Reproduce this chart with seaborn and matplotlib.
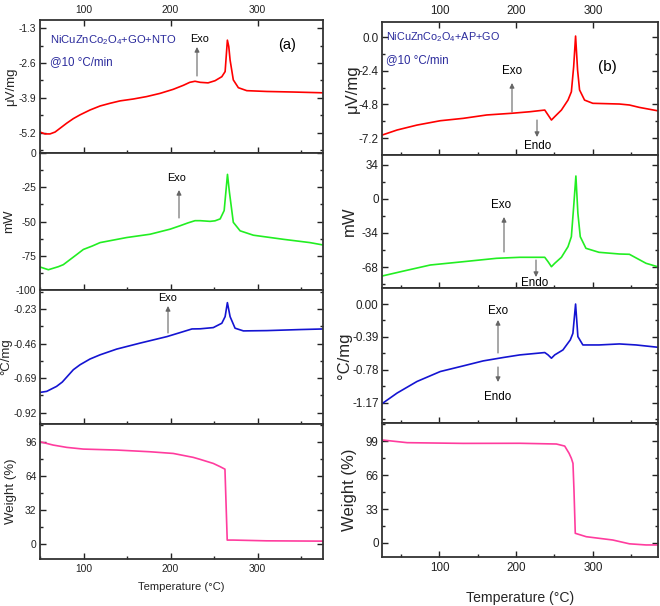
import numpy as np
import pandas as pd
import matplotlib
matplotlib.use("Agg")
import matplotlib.pyplot as plt
from matplotlib import font_manager
from matplotlib.ticker import MultipleLocator, FixedLocator
import seaborn as sns

# ---------------- data ----------------
# Left column: NiCuZnCo2O4+GO+NTO
a_dta_T = [50, 55.7, 61.5, 67.3, 73, 80.7, 88.3, 96, 107.4, 119, 130.4, 142, 157.2, 172.5, 188, 203, 214.7, 222, 228, 234, 243, 251, 258.8, 262.6, 264.1, 265.2, 266.8, 268.3, 272, 277.8, 287.5, 310.5, 340, 375.6]
a_dta_v = [-5.17, -5.24, -5.24, -5.17, -5.03, -4.84, -4.67, -4.53, -4.35, -4.20, -4.10, -4.01, -3.94, -3.85, -3.73, -3.58, -3.43, -3.32, -3.28, -3.32, -3.34, -3.26, -3.11, -2.92, -2.24, -1.75, -1.99, -2.49, -3.23, -3.52, -3.63, -3.66, -3.68, -3.71]

a_dsc_T = [50, 59.6, 71, 76.8, 84.5, 92.2, 99.8, 110, 119, 149.6, 176.4, 199.4, 210.9, 220, 228, 234, 245.3, 251, 256.9, 261.5, 265.3, 267.5, 272, 279.8, 295, 329.5, 360, 375.6]
a_dsc_v = [-83.2, -85.2, -83, -81.5, -77.8, -74.1, -70.4, -67.9, -65.4, -61.7, -59.3, -55.6, -53.1, -51, -49.4, -49.4, -49.9, -49.5, -48.1, -42, -15.6, -28.4, -50.6, -56.8, -60, -63, -65.4, -67.2]

a_dtg_T = [50, 57.7, 69, 75.6, 80.7, 88.3, 96, 107.4, 119, 138, 165, 195.7, 211, 224.5, 234, 249, 258.8, 262.6, 265.2, 268.3, 274, 283.6, 310.5, 349, 375.6]
a_dtg_v = [-0.785, -0.778, -0.745, -0.716, -0.683, -0.634, -0.601, -0.563, -0.535, -0.497, -0.457, -0.414, -0.387, -0.363, -0.362, -0.354, -0.325, -0.281, -0.188, -0.281, -0.358, -0.376, -0.374, -0.367, -0.363]

a_tg_T = [50, 65, 80.7, 99.8, 138, 176, 203, 226, 234, 249, 257, 262.4, 265.0, 272, 310, 375.6]
a_tg_v = [96.3, 93.2, 91, 89.4, 88.5, 86.9, 85.3, 81.6, 79.7, 75.9, 72.8, 70.5, 3.8, 3.8, 3.1, 2.8]

# Right column: NiCuZnCo2O4+AP+GO
b_dta_T = [25.2, 44.7, 70.6, 101, 131, 161.6, 194, 217.8, 237.3, 241.6, 246, 250.3, 259, 267.6, 272, 275, 277.5, 280.1, 282.7, 289.2, 300, 334.7, 347.7, 360.6, 384.4]
b_dta_v = [-6.98, -6.62, -6.27, -5.96, -5.79, -5.55, -5.43, -5.32, -5.2, -5.55, -5.91, -5.67, -5.2, -4.49, -3.90, -2.11, 0.07, -2.35, -3.77, -4.49, -4.72, -4.77, -4.84, -5.01, -5.25]

b_dsc_T = [25.2, 53.4, 88, 131, 174.5, 204.8, 237.3, 241.6, 246, 250.3, 259, 267.6, 272, 275, 277.9, 280.5, 283.6, 291, 308, 334.7, 347.7, 369.4, 384.4]
b_dsc_v = [-77, -72, -66, -62.7, -59.3, -58.3, -58.3, -62.7, -67.7, -64.3, -58.3, -47.7, -37.7, -7.7, 23, -14.3, -37.7, -49.3, -53.3, -55, -55.3, -64.3, -67.7]

b_dtg_T = [25.2, 44.7, 70.6, 101, 131, 157, 183, 204.8, 237.3, 241.6, 246, 250.3, 261, 270.6, 274, 277.5, 280.5, 287, 308, 334.7, 356.4, 384.4]
b_dtg_v = [-1.18, -1.055, -0.918, -0.80, -0.733, -0.674, -0.634, -0.603, -0.575, -0.603, -0.642, -0.603, -0.544, -0.425, -0.347, 0.0, -0.386, -0.485, -0.485, -0.473, -0.485, -0.512]

b_tg_T = [25.2, 57.8, 131, 204.8, 252.5, 263.3, 269, 272, 274.1, 275.4, 277.1, 291.4, 326, 347.7, 369.4, 384.4]
b_tg_v = [100, 97.4, 96.7, 96.8, 96.1, 94.1, 87.1, 82.2, 77.3, 51.4, 9.4, 6.1, 2.9, -0.8, -1.9, -1.9]

y_labels = ["\u03bcV/mg", "mW", "\u00b0C/mg", "Weight (%)"]
a_yticks = [[-1.3, -2.6, -3.9, -5.2], [0, -25, -50, -75, -100], [-0.23, -0.46, -0.69, -0.92], [96, 64, 32, 0]]
b_yticks = [[0.0, -2.4, -4.8, -7.2], [34, 0, -34, -68], [0.00, -0.39, -0.78, -1.17], [99, 66, 33, 0]]
a_yfmt = ["{:.1f}", "{:.0f}", "{:.2f}", "{:.0f}"]
b_yfmt = ["{:.1f}", "{:.0f}", "{:.2f}", "{:.0f}"]
x_ticks = [100, 200, 300]
x_label = "Temperature (\u00b0C)"
title_a = "NiCuZnCo$_2$O$_4$+GO+NTO"
title_b = "NiCuZnCo$_2$O$_4$+AP+GO"
rate_text = "@10 \u00b0C/min"

# ---------------- style ----------------
sns.set_style("ticks")
REG = ['Liberation Sans', 'DejaVu Sans']
try:
    font_manager.findfont('Liberation Sans Narrow', fallback_to_default=False)
    NAR = ['Liberation Sans Narrow', 'Liberation Sans', 'DejaVu Sans']
    k = 1.0
except Exception:
    NAR = REG
    k = 0.82
plt.rcParams['font.family'] = REG
plt.rcParams['mathtext.fontset'] = 'custom'
plt.rcParams['mathtext.rm'] = 'Liberation Sans'
plt.rcParams['mathtext.it'] = 'Liberation Sans'
plt.rcParams['mathtext.default'] = 'regular'

W, H = 660, 606
fig = plt.figure(figsize=(W / 100, H / 100), dpi=100)

colors = ["#ff0000", "#22ee22", "#1414d2", "#ff3c9e"]
text_blue = "#2a2a9c"

L_boxes = [(40, 20, 323, 153), (40, 153, 323, 290), (40, 290, 323, 424), (40, 424, 323, 559)]
R_boxes = [(382, 22, 658, 155), (382, 155, 658, 288), (382, 288, 658, 423), (382, 423, 658, 557)]
a_ylims = [(-5.95, -1.0), (-100, 0), (-0.995, -0.104), (-14, 113)]
b_ylims = [(-8.4, 1.07), (-89, 44), (-1.41, 0.19), (-13.6, 116.5)]
a_xlim = (50, 375)
b_xlim = (25, 385)
a_ylab_x = [-0.081, -0.088, -0.097, -0.081]
b_ylab_x = [-0.08, -0.09, -0.109, -0.09]

a_data = [(a_dta_T, a_dta_v), (a_dsc_T, a_dsc_v), (a_dtg_T, a_dtg_v), (a_tg_T, a_tg_v)]
b_data = [(b_dta_T, b_dta_v), (b_dsc_T, b_dsc_v), (b_dtg_T, b_dtg_v), (b_tg_T, b_tg_v)]


def make_axes(box):
    x0, y0, x1, y1 = box
    return fig.add_axes([x0 / W, 1 - y1 / H, (x1 - x0) / W, (y1 - y0) / H])


def frac(box, xp, yp):
    x0, y0, x1, y1 = box
    return ((xp - x0) / (x1 - x0), (y1 - yp) / (y1 - y0))


def build_column(boxes, data, ylims, yticks, yfmt, xlim, tick_fs, lab_fs, xlab_fs, ylab_x, xpad):
    axes = []
    for i, box in enumerate(boxes):
        ax = make_axes(box)
        T, v = data[i]
        df = pd.DataFrame({"T": T, "v": v})
        sns.lineplot(data=df, x="T", y="v", ax=ax, color=colors[i], lw=1.2,
                     estimator=None, sort=False)
        ax.set_xlim(*xlim)
        ax.set_ylim(*ylims[i])
        ax.yaxis.set_major_locator(FixedLocator(yticks[i]))
        ax.set_yticklabels([yfmt[i].format(t) for t in yticks[i]])
        step = abs(yticks[i][0] - yticks[i][1])
        ax.yaxis.set_minor_locator(MultipleLocator(step / 2))
        ax.xaxis.set_major_locator(FixedLocator(x_ticks))
        ax.xaxis.set_minor_locator(MultipleLocator(50))
        ax.tick_params(axis='both', which='both', direction='in',
                       right=True, left=True, width=1.0, colors="#222222")
        ax.tick_params(axis='y', pad=2.5)
        ax.tick_params(which='major', length=4)
        ax.tick_params(which='minor', length=2.5)
        if i == 0:
            ax.tick_params(axis='x', top=True, labeltop=True, bottom=True, labelbottom=False)
        elif i == 3:
            ax.tick_params(axis='x', top=False, labeltop=False, bottom=True, labelbottom=True)
        else:
            ax.tick_params(axis='x', top=False, labeltop=False, bottom=True, labelbottom=False)
        for lab in ax.get_xticklabels() + ax.get_yticklabels():
            lab.set_fontfamily(NAR)
            lab.set_fontsize(tick_fs * k)
        for s in ax.spines.values():
            s.set_linewidth(1.3)
            s.set_color("#333333")
        if i == 3:
            ax.set_xlabel(x_label, fontsize=xlab_fs * k, labelpad=xpad, family=NAR)
        else:
            ax.set_xlabel("")
        ax.set_ylabel(y_labels[i], fontsize=lab_fs, family=REG)
        ax.yaxis.set_label_coords(ylab_x[i], 0.5)
        axes.append(ax)
    return axes


La = build_column(L_boxes, a_data, a_ylims, a_yticks, a_yfmt, a_xlim, 9.0, 9.5, 9.9, a_ylab_x, 6)
Rb = build_column(R_boxes, b_data, b_ylims, b_yticks, b_yfmt, b_xlim, 10.2, 12, 12.3, b_ylab_x, 12)


def txt(ax, box, xp, yp, s, fs, color="black", ha="center", fam=None):
    ax.text(*frac(box, xp, yp), s, transform=ax.transAxes, fontsize=fs, color=color,
            ha=ha, va="center", clip_on=False, family=fam if fam else REG)


def arrow(ax, box, xp, y_from, y_to):
    ax.annotate("", xy=frac(box, xp, y_to), xytext=frac(box, xp, y_from),
                xycoords="axes fraction", textcoords="axes fraction",
                arrowprops=dict(arrowstyle="-|>", color="#666666", lw=0.8,
                                mutation_scale=7, shrinkA=0, shrinkB=0))


ex_l = 9.6 * k
ex_r = 10.2 * k
# left annotations
txt(La[0], L_boxes[0], 50, 40, title_a, 8.1, text_blue, ha="left")
txt(La[0], L_boxes[0], 50, 62, rate_text, 8.3, text_blue, ha="left")
txt(La[0], L_boxes[0], 287, 45, "(a)", 10.5)
txt(La[0], L_boxes[0], 200, 39, "Exo", ex_l, fam=NAR)
arrow(La[0], L_boxes[0], 197, 76, 47)
txt(La[1], L_boxes[1], 177, 178, "Exo", ex_l, fam=NAR)
arrow(La[1], L_boxes[1], 179, 218, 190)
txt(La[2], L_boxes[2], 168, 298, "Exo", ex_l, fam=NAR)
arrow(La[2], L_boxes[2], 168, 333, 306)

# right annotations
txt(Rb[0], R_boxes[0], 386, 37, title_b, 7.8, text_blue, ha="left")
txt(Rb[0], R_boxes[0], 386, 60, rate_text, 8.3, text_blue, ha="left")
txt(Rb[0], R_boxes[0], 607, 67, "(b)", 11)
txt(Rb[0], R_boxes[0], 512, 71, "Exo", ex_r, fam=NAR)
arrow(Rb[0], R_boxes[0], 512, 112, 83)
arrow(Rb[0], R_boxes[0], 537, 120, 137)
txt(Rb[0], R_boxes[0], 538, 146, "Endo", ex_r, fam=NAR)
txt(Rb[1], R_boxes[1], 501, 205, "Exo", ex_r, fam=NAR)
arrow(Rb[1], R_boxes[1], 504, 252, 217)
arrow(Rb[1], R_boxes[1], 536, 260, 277)
txt(Rb[1], R_boxes[1], 535, 283, "Endo", ex_r, fam=NAR)
txt(Rb[2], R_boxes[2], 498, 311, "Exo", ex_r, fam=NAR)
arrow(Rb[2], R_boxes[2], 498, 353, 320)
arrow(Rb[2], R_boxes[2], 498, 367, 382)
txt(Rb[2], R_boxes[2], 498, 397, "Endo", ex_r, fam=NAR)

fig.savefig("out.png", dpi=100)
